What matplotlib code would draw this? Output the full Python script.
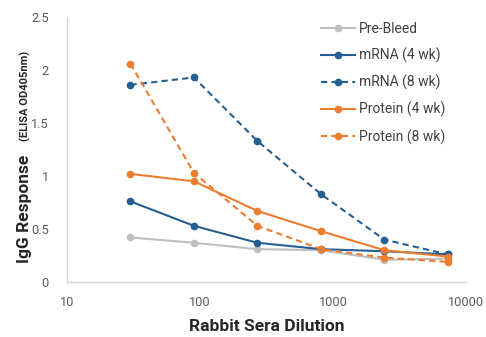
import matplotlib
matplotlib.use("Agg")
import matplotlib.pyplot as plt
from matplotlib.ticker import FixedLocator, NullLocator

plt.rcParams['font.family'] = ['Roboto', 'DejaVu Sans']

dilution = [30, 90, 270, 810, 2430, 7290]
pre_bleed = [0.42, 0.37, 0.31, 0.30, 0.21, 0.22]
mrna_4wk = [0.76, 0.53, 0.37, 0.31, 0.29, 0.26]
mrna_8wk = [1.86, 1.93, 1.33, 0.83, 0.40, 0.26]
protein_4wk = [1.02, 0.95, 0.67, 0.48, 0.30, 0.24]
protein_8wk = [2.06, 1.03, 0.53, 0.31, 0.23, 0.19]

labels = ["Pre-Bleed", "mRNA (4 wk)", "mRNA (8 wk)", "Protein (4 wk)", "Protein (8 wk)"]
x_ticks = [10, 100, 1000, 10000]
x_ticklabels = ["10", "100", "1000", "10000"]
y_ticks = [0, 0.5, 1, 1.5, 2, 2.5]
y_ticklabels = ["0", "0.5", "1", "1.5", "2", "2.5"]

gray = "#BFBFBF"
blue = "#255E91"
orange = "#ED7D31"

fig = plt.figure(figsize=(4.86, 3.37), dpi=100)
ax = fig.add_axes([67/486, 55/337, 399/486, 265/337])

series = [
    (pre_bleed, gray, "-"),
    (mrna_4wk, blue, "-"),
    (mrna_8wk, blue, "--"),
    (protein_4wk, orange, "-"),
    (protein_8wk, orange, "--"),
]
for (vals, col, ls), lab in zip(series, labels):
    kw = dict(dashes=(3, 2)) if ls == "--" else {}
    ax.plot(dilution, vals, color=col, linestyle=ls, linewidth=1.5,
            marker="o", markersize=4.5, label=lab, **kw)

ax.set_xscale("log")
ax.set_xlim(10, 10000)
ax.set_ylim(0, 2.5)
ax.xaxis.set_major_locator(FixedLocator(x_ticks))
ax.xaxis.set_minor_locator(NullLocator())
ax.set_xticklabels(x_ticklabels)
ax.set_yticks(y_ticks)
ax.set_yticklabels(y_ticklabels)
ax.tick_params(axis="both", length=0, labelsize=9.2, labelcolor="#595959")
ax.tick_params(axis="y", pad=13)
ax.tick_params(axis="x", pad=10)

for s in ["top", "right"]:
    ax.spines[s].set_visible(False)
for s in ["left", "bottom"]:
    ax.spines[s].set_color("#D9D9D9")
    ax.spines[s].set_linewidth(1.0)

ax.set_xlabel("Rabbit Sera Dilution", fontsize=12.5, fontweight="bold",
              color="#262626", labelpad=7)

fig.text(32/486, 1 - 263/337, "IgG Response", rotation=90, fontsize=12.5,
         fontweight="bold", color="#262626", ha="right", va="bottom")
fig.text(31/486, 1 - 141/337, "(ELISA OD405nm)", rotation=90, fontsize=8,
         fontweight="bold", color="#262626", ha="right", va="bottom")

leg = ax.legend(loc="upper left", bbox_to_anchor=(254/399, 0.981), frameon=False,
                fontsize=10, labelspacing=0.85, handlelength=2.45,
                handletextpad=0.25, borderaxespad=0.0, borderpad=0.0)
for t in leg.get_texts():
    t.set_color("#404040")

fig.savefig("out.png", dpi=100)
